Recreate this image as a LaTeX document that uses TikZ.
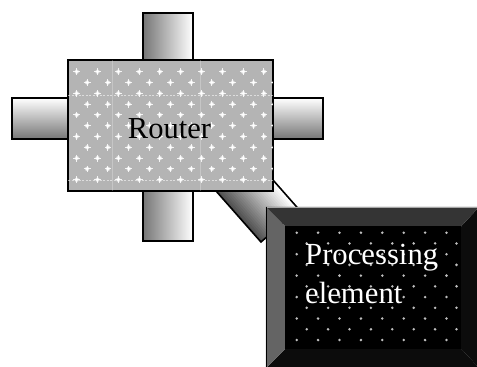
\documentclass[tikz,border=0pt]{standalone}
\usepackage{fontspec}
\setmainfont{Liberation Serif}
\usetikzlibrary{calc}
\definecolor{stubdark}{RGB}{118,118,118}
\definecolor{diagdark}{RGB}{80,80,80}
\definecolor{checker}{RGB}{180,180,180}
\definecolor{bevtop}{RGB}{52,52,52}
\definecolor{bevleft}{RGB}{100,100,100}
\definecolor{bevright}{RGB}{12,12,12}
\definecolor{pedot}{RGB}{190,190,190}
\begin{document}
\begin{tikzpicture}[x=1pt,y=-1pt,
  stubline/.style={draw=black,line width=1.6pt},
  vstub/.style={stubline,left color=stubdark,right color=white},
  hstub/.style={stubline,top color=white,bottom color=stubdark},
  routerbox/.style={draw=black,line width=1.6pt,fill=checker,inner sep=0pt,
    minimum width=205pt,minimum height=131pt},
  pebox/.style={inner sep=0pt,minimum width=213pt,minimum height=161pt},
  sparkle/.style={white},
  bigtext/.style={font=\fontsize{30.7}{39}\selectfont}]
\useasboundingbox (0,0) rectangle (477,367);

% ports on the four sides of the router
\shadedraw[vstub] (143,13) rectangle (193,64);
\shadedraw[hstub] (12,98) rectangle (70,139);
\shadedraw[hstub] (271,98) rectangle (323,139);
\shadedraw[vstub] (143,188) rectangle (193,241);

% diagonal link from the router to the processing element
\coordinate (lb) at (261,242);                 % lower left corner
\coordinate (lr) at ({261+37.5},{242-33.05});  % lower right corner
\coordinate (ul) at ({261-59.5},{242-67.5});
\coordinate (ur) at ({261+37.5-59.5},{242-33.05-67.5});
\foreach \i in {0,...,24}{
  \pgfmathsetmacro\u{2*\i}
  \pgfmathsetmacro\w{100*\i/24}
  \fill[white!\w!diagdark]
    ({261+0.75*\u},{242-0.661*\u}) -- (lr) -- (ur)
    -- ({261+0.75*\u-59.5},{242-0.661*\u-67.5}) -- cycle;
}
\draw[stubline] (ul) -- (lb) -- (lr) -- (ur);

% router
\node[routerbox] (router) at (170.5,125.5) {};
\begin{scope}
  \clip ($(router.north west)+(1,1)$) rectangle ($(router.south east)+(-1,-1)$);
  \draw[white,opacity=0.55,line width=0.8pt,dash pattern=on 2pt off 1.5pt]
    (68,95) -- (273,95) (68,180) -- (273,180);
  \draw[white,opacity=0.25,line width=0.8pt] (112,60) -- (112,191) (200,60) -- (200,191);
  \foreach \k in {0,...,10}{
    \pgfmathsetmacro\yy{71.7+10.8*\k}
    \pgfmathsetmacro\xo{76.7+10.4*mod(\k,2)}
    \foreach \j in {0,...,9}{
      \pgfmathsetmacro\xx{\xo+20.8*\j}
      \fill[sparkle,opacity=0.6] (\xx,\yy) circle (2.2pt);
      \fill[sparkle] (\xx,\yy) circle (1.4pt);
      \draw[sparkle,line width=0.9pt,opacity=0.85] (\xx-3.4,\yy) -- (\xx+3.4,\yy)
        (\xx,\yy-3.4) -- (\xx,\yy+3.4);
    }
  }
\end{scope}
\node[font=\fontsize{30.5}{36}\selectfont,anchor=base] (rlabel) at (169.5,138) {Router};

% processing element with bevelled frame
\node[pebox] (pe) at (372.5,287.5) {};
\coordinate (inw) at ($(pe.north west)+(19.5,19.5)$);
\coordinate (ine) at ($(pe.north east)+(-18,19.5)$);
\coordinate (isw) at ($(pe.south west)+(19.5,-19.5)$);
\coordinate (ise) at ($(pe.south east)+(-18,-19.5)$);
\fill[bevright] (pe.north east) -- (ine) -- (ise) -- (pe.south east) -- cycle;
\fill[bevright] (pe.south west) -- (isw) -- (ise) -- (pe.south east) -- cycle;
\fill[bevtop] (pe.north west) -- (pe.north east) -- (ine) -- (inw) -- cycle;
\fill[bevleft] (pe.north west) -- (inw) -- (isw) -- (pe.south west) -- cycle;
\fill[black] (inw) rectangle (ise);
\draw[gray!70,line width=0.6pt] (pe.south west) -- (pe.north west) -- (pe.north east);
\draw[black,line width=0.5pt] (pe.south west) -- (pe.north west);
\foreach \k in {0,...,10}{
  \pgfmathsetmacro\yy{232.7+10.73*\k}
  \pgfmathsetmacro\xo{296.7+10*mod(\k,2)}
  \foreach \j in {0,...,7}{
    \fill[pedot] ({\xo+21.4*\j},\yy) circle (1.4pt);
  }
}
\node[bigtext,text=white,align=left,anchor=base west,inner sep=0pt] (pelabel)
  at (305,303) {Processing\\element};
\end{tikzpicture}
\end{document}
